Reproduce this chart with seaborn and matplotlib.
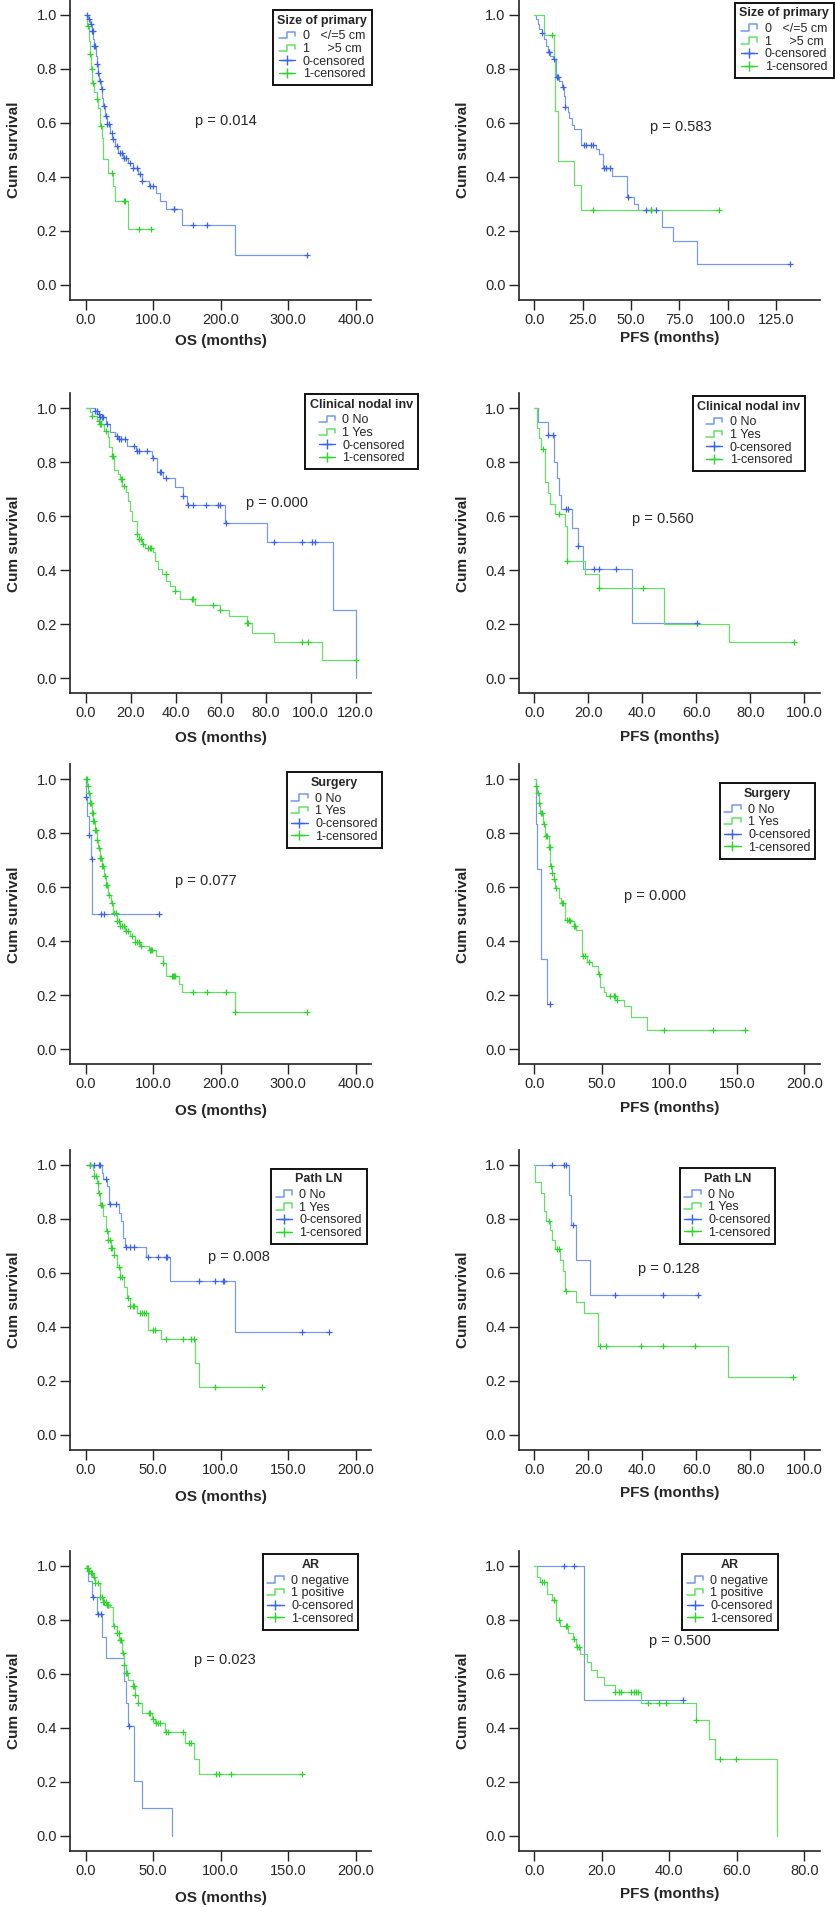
import numpy as np
import matplotlib
matplotlib.use("Agg")
import matplotlib.pyplot as plt
import seaborn as sns
from matplotlib.lines import Line2D
from matplotlib.legend_handler import HandlerBase

# ---- data: step times / survival after step / censor times ----
# Size of primary, OS
size_os_t0 = [4.0, 6.4, 8.9, 11.4, 12.9, 14.9, 16.3, 18.8, 20.3, 22.3, 24.3, 26.2, 29.2, 32.2, 36.1, 39.6,
              43.6, 48.5, 55.9, 63.4, 70.8, 78.2, 83.2, 93.1, 104.0, 110.4, 118.8, 142.6, 220.8]
size_os_s0 = [0.984, 0.966, 0.94, 0.91, 0.885, 0.848, 0.817, 0.786, 0.756, 0.725, 0.694, 0.663, 0.626, 0.595,
              0.564, 0.54, 0.515, 0.49, 0.47, 0.452, 0.434, 0.41, 0.385, 0.367, 0.342, 0.311, 0.28, 0.222, 0.11]
size_os_c0 = [2.5, 5.4, 7.4, 8.9, 10.4, 12.9, 14.4, 16.3, 18.8, 21.3, 23.8, 27.2, 30.2, 32.2, 34.7, 38.6, 41.1,
              46.0, 51.0, 53.5, 57.0, 60.0, 65.8, 70.8, 75.7, 80.7, 83.2, 95.5, 99.5, 130.2, 131.2, 158.4,
              179.7, 328.2]
size_os_t1 = [2.5, 4.5, 6.4, 7.9, 9.9, 12.4, 16.3, 18.3, 21.3, 23.8, 26.2, 33.7, 41.1, 43.6, 63.4]
size_os_s1 = [0.96, 0.904, 0.854, 0.80, 0.75, 0.716, 0.688, 0.657, 0.589, 0.546, 0.465, 0.416, 0.367, 0.311, 0.209]
size_os_c1 = [4.0, 6.4, 8.9, 11.4, 16.3, 22.3, 39.1, 56.0, 58.4, 79.2, 97.0]

# Size of primary, PFS
size_pfs_t0 = [0.9, 1.7, 2.6, 3.8, 4.8, 6.0, 6.9, 8.3, 9.5, 11.2, 12.9, 14.1, 15.2, 15.9, 17.2, 18.1, 19.3,
               20.7, 24.1, 31.9, 33.6, 35.7, 40.0, 47.9, 51.7, 53.8, 66.0, 71.9, 84.1]
size_pfs_s0 = [0.984, 0.965, 0.947, 0.935, 0.91, 0.885, 0.863, 0.848, 0.838, 0.772, 0.756, 0.735, 0.70, 0.66,
               0.64, 0.617, 0.591, 0.577, 0.519, 0.502, 0.484, 0.432, 0.404, 0.326, 0.30, 0.277, 0.216, 0.163,
               0.079]
size_pfs_c0 = [3.8, 7.4, 7.8, 10.3, 11.7, 12.1, 14.7, 16.0, 25.5, 26.7, 29.3, 30.2, 36.2, 37.1, 39.3, 48.5,
               57.6, 60.5, 62.8, 132.4]
size_pfs_t1 = [5.2, 10.0, 10.9, 12.1, 20.7, 24.1]
size_pfs_s1 = [0.925, 0.836, 0.645, 0.46, 0.37, 0.277]
size_pfs_c1 = [9.0, 30.3, 60.3, 95.7]

# Clinical nodal involvement, OS
nodal_os_t0 = [4.1, 5.2, 6.4, 9.0, 10.8, 13.0, 14.5, 18.2, 22.4, 29.3, 31.9, 34.5, 39.7, 43.4, 44.9, 61.9,
               80.4, 109.8, 120.0]
nodal_os_s0 = [0.991, 0.979, 0.969, 0.942, 0.913, 0.899, 0.886, 0.862, 0.843, 0.815, 0.765, 0.74, 0.707,
               0.674, 0.643, 0.577, 0.506, 0.252, 0.0]
nodal_os_c0 = [4.1, 4.9, 5.8, 6.4, 7.1, 7.9, 9.6, 13.7, 14.8, 15.7, 17.5, 21.6, 23.0, 23.9, 27.1, 30.1, 32.8,
               33.5, 35.6, 43.4, 45.3, 47.8, 53.5, 59.0, 59.7, 62.2, 83.9, 96.0, 100.7, 101.9]
nodal_os_t1 = [1.9, 2.7, 4.9, 6.4, 8.1, 10.1, 10.5, 11.6, 12.7, 14.5, 15.3, 16.3, 17.9, 19.0, 19.7, 20.4,
               23.0, 23.9, 24.9, 26.4, 29.8, 30.8, 32.0, 33.9, 35.7, 37.5, 39.7, 41.9, 48.6, 59.7, 63.9, 71.6,
               74.1, 83.7, 104.9]
nodal_os_s1 = [0.985, 0.97, 0.954, 0.942, 0.917, 0.892, 0.855, 0.824, 0.773, 0.756, 0.738, 0.713, 0.689,
               0.658, 0.62, 0.583, 0.534, 0.515, 0.497, 0.481, 0.466, 0.435, 0.404, 0.388, 0.361, 0.342, 0.324,
               0.293, 0.272, 0.253, 0.229, 0.206, 0.169, 0.136, 0.067]
nodal_os_c1 = [2.7, 5.9, 6.4, 6.8, 8.9, 11.6, 12.1, 15.6, 16.1, 17.0, 23.0, 23.9, 24.6, 25.6, 27.9, 28.6,
               28.9, 35.6, 39.7, 47.1, 47.9, 56.7, 59.9, 71.6, 72.3, 96.0, 98.9, 120.0]

# Clinical nodal involvement, PFS
nodal_pfs_t0 = [1.2, 5.1, 7.2, 8.4, 9.0, 10.0, 14.0, 16.1, 17.9, 36.1]
nodal_pfs_s0 = [0.95, 0.90, 0.80, 0.74, 0.68, 0.626, 0.558, 0.49, 0.406, 0.203]
nodal_pfs_c0 = [5.1, 6.8, 11.7, 12.3, 16.1, 21.9, 23.8, 30.2, 60.2]
nodal_pfs_t1 = [1.0, 1.8, 2.5, 3.8, 4.9, 5.7, 7.8, 11.2, 12.1, 18.6, 23.8, 48.1, 72.1]
nodal_pfs_s1 = [0.926, 0.889, 0.849, 0.728, 0.688, 0.647, 0.608, 0.564, 0.434, 0.387, 0.335, 0.202, 0.135]
nodal_pfs_c1 = [3.0, 9.0, 12.1, 23.8, 40.2, 96.3]

# Surgery, OS
surg_os_t0 = [0.5, 2.5, 5.0, 7.4, 9.9]
surg_os_s0 = [0.934, 0.864, 0.792, 0.705, 0.50]
surg_os_c0 = [0.6, 5.4, 8.9, 22.3, 27.2, 107.9]
surg_os_t1 = [2.5, 4.0, 6.4, 8.9, 11.4, 13.9, 16.3, 18.8, 21.3, 23.8, 27.2, 30.2, 33.7, 37.1, 41.1, 46.0,
              51.0, 58.4, 65.8, 73.3, 80.7, 93.1, 104.5, 114.4, 118.8, 138.6, 142.6, 221.8]
surg_os_s1 = [0.975, 0.95, 0.913, 0.876, 0.845, 0.814, 0.777, 0.746, 0.709, 0.678, 0.641, 0.61, 0.573, 0.542,
              0.505, 0.474, 0.455, 0.437, 0.418, 0.399, 0.381, 0.366, 0.344, 0.319, 0.27, 0.243, 0.212, 0.14]
surg_os_c1 = [0.5, 1.5, 3.0, 4.5, 6.4, 7.9, 9.4, 10.4, 11.4, 12.9, 14.4, 15.8, 17.3, 19.3, 21.3, 22.8, 24.3,
              26.2, 28.2, 30.2, 32.2, 35.1, 38.6, 42.6, 45.0, 47.0, 49.0, 51.0, 53.5, 56.9, 59.9, 63.4, 68.3,
              73.3, 76.7, 79.7, 82.2, 94.6, 96.5, 98.0, 114.4, 127.7, 129.2, 130.2, 132.7, 158.4, 179.7,
              207.9, 221.8, 327.2]

# Surgery, PFS
surg_pfs_t0 = [1.5, 2.0, 5.2, 9.4]
surg_pfs_s0 = [0.835, 0.668, 0.334, 0.167]
surg_pfs_c0 = [11.8]
surg_pfs_t1 = [1.0, 2.0, 3.2, 4.4, 6.4, 8.1, 10.6, 11.8, 13.1, 14.3, 15.5, 18.0, 19.7, 22.4, 26.1, 29.1,
               31.1, 35.5, 39.0, 42.7, 47.1, 48.3, 51.3, 53.3, 61.2, 66.1, 71.5, 83.3]
surg_pfs_s1 = [0.975, 0.95, 0.913, 0.876, 0.833, 0.79, 0.75, 0.678, 0.653, 0.629, 0.598, 0.561, 0.542, 0.48,
               0.474, 0.455, 0.443, 0.344, 0.325, 0.307, 0.28, 0.23, 0.212, 0.198, 0.181, 0.161, 0.121, 0.072]
surg_pfs_c1 = [1.5, 2.7, 3.7, 4.9, 5.9, 6.9, 8.6, 9.4, 10.6, 11.3, 12.3, 13.1, 14.8, 16.3, 20.5, 21.2, 24.2,
               25.4, 26.6, 29.1, 30.3, 36.0, 37.2, 40.2, 47.6, 55.7, 58.7, 59.9, 61.2, 95.7, 132.2, 156.1]

# Path LN, OS
pln_os_t0 = [11.9, 13.1, 15.6, 17.6, 24.3, 26.0, 27.5, 29.2, 44.8, 62.1, 110.4]
pln_os_s0 = [0.97, 0.948, 0.921, 0.857, 0.824, 0.791, 0.729, 0.696, 0.658, 0.572, 0.38]
pln_os_c0 = [3.2, 6.2, 9.9, 10.6, 15.1, 18.1, 22.3, 29.5, 32.9, 36.1, 46.5, 53.5, 59.4, 60.1, 84.2, 96.0,
             101.5, 102.2, 159.9, 180.2]
pln_os_t1 = [5.2, 6.4, 8.2, 9.4, 10.6, 12.6, 15.1, 16.8, 18.6, 21.0, 23.0, 25.5, 28.0, 30.4, 32.9, 37.9,
             46.5, 55.9, 80.7, 84.2]
pln_os_s1 = [0.983, 0.958, 0.933, 0.896, 0.853, 0.81, 0.754, 0.723, 0.692, 0.668, 0.624, 0.587, 0.55, 0.507,
             0.476, 0.451, 0.389, 0.355, 0.266, 0.177]
pln_os_c1 = [3.2, 6.4, 7.4, 8.9, 9.9, 11.1, 11.9, 15.6, 16.8, 18.1, 18.6, 19.6, 21.0, 24.3, 25.5, 26.7, 31.7,
             32.9, 34.9, 36.1, 39.9, 41.6, 43.3, 44.6, 50.2, 51.5, 59.4, 71.8, 78.0, 79.9, 96.0, 130.7]

# Path LN, PFS
pln_pfs_t0 = [12.7, 13.7, 15.5, 20.5]
pln_pfs_s0 = [0.888, 0.779, 0.649, 0.518]
pln_pfs_c0 = [6.5, 10.9, 11.7, 14.2, 29.7, 47.6, 60.5]
pln_pfs_t1 = [0.4, 2.5, 3.5, 4.4, 5.7, 6.5, 7.5, 9.6, 10.5, 11.2, 15.5, 18.2, 23.6, 71.6]
pln_pfs_s1 = [0.936, 0.896, 0.831, 0.794, 0.76, 0.723, 0.69, 0.649, 0.609, 0.534, 0.492, 0.451, 0.328, 0.216]
pln_pfs_c1 = [5.5, 8.4, 9.2, 11.7, 24.4, 26.5, 39.6, 47.6, 59.6, 95.7]

# AR, OS
ar_os_t0 = [2.0, 5.0, 8.2, 11.9, 15.1, 28.0, 30.0, 31.7, 36.1, 41.6, 63.9]
ar_os_s0 = [0.943, 0.883, 0.82, 0.737, 0.656, 0.572, 0.492, 0.405, 0.203, 0.103, 0.0]
ar_os_c0 = [5.4, 9.0, 11.5, 32.0]
ar_os_t1 = [1.2, 2.5, 3.7, 5.7, 6.9, 10.6, 13.1, 15.1, 18.1, 20.5, 23.5, 25.0, 26.7, 28.0, 29.7, 31.7, 34.9,
            36.6, 38.4, 41.6, 49.0, 51.5, 58.9, 73.8, 80.4, 83.7]
ar_os_s1 = [0.99, 0.981, 0.972, 0.959, 0.934, 0.885, 0.866, 0.854, 0.845, 0.776, 0.749, 0.724, 0.675, 0.632,
            0.601, 0.576, 0.554, 0.52, 0.49, 0.453, 0.432, 0.416, 0.384, 0.341, 0.283, 0.226]
ar_os_c1 = [1.2, 2.0, 2.7, 4.0, 5.0, 6.2, 6.9, 8.9, 10.6, 11.9, 13.1, 13.9, 14.9, 15.6, 16.3, 16.8, 21.0, 23.5,
            24.5, 25.5, 26.0, 27.5, 28.5, 30.0, 30.4, 35.4, 36.1, 36.6, 38.6, 47.0, 47.8, 49.8, 52.2, 53.2,
            54.7, 59.7, 60.6, 71.8, 76.7, 78.0, 96.8, 99.0, 107.7, 159.9]

# AR, PFS
ar_pfs_t0 = [14.8]
ar_pfs_s0 = [0.502]
ar_pfs_c0 = [8.7, 11.6, 43.9]
ar_pfs_t1 = [0.8, 1.8, 3.7, 5.2, 6.5, 7.5, 9.9, 11.4, 12.4, 13.6, 15.6, 16.9, 18.5, 20.5, 23.8, 31.7, 47.8,
             51.8, 53.6, 71.8]
ar_pfs_s1 = [0.959, 0.94, 0.895, 0.873, 0.798, 0.776, 0.749, 0.726, 0.699, 0.671, 0.644, 0.613, 0.588, 0.559,
             0.532, 0.489, 0.427, 0.357, 0.285, 0.0]
ar_pfs_c1 = [2.3, 2.8, 5.7, 5.9, 7.4, 9.5, 9.7, 11.6, 12.6, 13.1, 23.8, 25.0, 25.6, 28.7, 29.4, 30.1, 30.7,
             33.6, 36.8, 39.1, 47.8, 55.0, 59.8]

legend_titles = ["Size of primary", "Size of primary", "Clinical nodal inv", "Clinical nodal inv",
                 "Surgery", "Surgery", "Path LN", "Path LN", "AR", "AR"]
group_labels = [["0   </=5 cm", "1     >5 cm"]] * 2 + [["0 No", "1 Yes"]] * 6 + [["0 negative", "1 positive"]] * 2
p_values = ["0.014", "0.583", "0.000", "0.560", "0.077", "0.000", "0.008", "0.128", "0.023", "0.500"]
x_titles = ["OS (months)", "PFS (months)"] * 5
x_ticks = [[0, 100, 200, 300, 400], [0, 25, 50, 75, 100, 125], [0, 20, 40, 60, 80, 100, 120],
           [0, 20, 40, 60, 80, 100], [0, 100, 200, 300, 400], [0, 50, 100, 150, 200],
           [0, 50, 100, 150, 200], [0, 20, 40, 60, 80, 100], [0, 50, 100, 150, 200], [0, 20, 40, 60, 80]]

curves = [
    (size_os_t0, size_os_s0, size_os_c0, size_os_t1, size_os_s1, size_os_c1),
    (size_pfs_t0, size_pfs_s0, size_pfs_c0, size_pfs_t1, size_pfs_s1, size_pfs_c1),
    (nodal_os_t0, nodal_os_s0, nodal_os_c0, nodal_os_t1, nodal_os_s1, nodal_os_c1),
    (nodal_pfs_t0, nodal_pfs_s0, nodal_pfs_c0, nodal_pfs_t1, nodal_pfs_s1, nodal_pfs_c1),
    (surg_os_t0, surg_os_s0, surg_os_c0, surg_os_t1, surg_os_s1, surg_os_c1),
    (surg_pfs_t0, surg_pfs_s0, surg_pfs_c0, surg_pfs_t1, surg_pfs_s1, surg_pfs_c1),
    (pln_os_t0, pln_os_s0, pln_os_c0, pln_os_t1, pln_os_s1, pln_os_c1),
    (pln_pfs_t0, pln_pfs_s0, pln_pfs_c0, pln_pfs_t1, pln_pfs_s1, pln_pfs_c1),
    (ar_os_t0, ar_os_s0, ar_os_c0, ar_os_t1, ar_os_s1, ar_os_c1),
    (ar_pfs_t0, ar_pfs_s0, ar_pfs_c0, ar_pfs_t1, ar_pfs_s1, ar_pfs_c1),
]

# ---- layout (pixels in the 835x1907 figure) ----
W, H = 835, 1907
AX_W, AX_H = 301, 300
col_left = [70, 518.7]
row_bottom = [300, 693.3, 1064.3, 1450, 1850.5]
x_span = [400, 139.7, 120, 100, 400, 200, 200, 100, 200, 80]   # data units per 270 px
legend_corner = [(372, 10), (834, 2.7), (418, 394), (805.3, 396), (382.3, 772.3),
                 (815.3, 783.3), (366.7, 1168.7), (775.3, 1168.3), (358.3, 1554.3), (777.7, 1554.3)]
p_pos = [(162, 0.607), (59.8, 0.587), (71.1, 0.648), (36.1, 0.591), (132.7, 0.625),
         (66.1, 0.569), (90.3, 0.659), (38.2, 0.616), (80.4, 0.65), (34.1, 0.72)]
xlab_drop = [40.7, 38, 44.7, 44, 47.3, 44, 46.7, 43.3, 47.3, 43.3]

BLUE, BLUE_M = "#7397f4", "#3a62f0"
GREEN, GREEN_M = "#62e262", "#2ed42e"

sns.set_style("ticks")
plt.rcParams["font.family"] = ["Liberation Sans", "DejaVu Sans"]


class StepKey(Line2D):
    pass


class StepHandler(HandlerBase):
    def create_artists(self, legend, orig_handle, xdescent, ydescent, width, height, fontsize, trans):
        xs = np.array([0, 0.5, 0.5, 1.0, 1.0]) * width - xdescent
        ys = np.array([0.1, 0.1, 0.85, 0.85, 0.35]) * height - ydescent
        return [Line2D(xs, ys, color=orig_handle.get_color(), lw=1.1, transform=trans)]


def surv_at(times, surv, t):
    i = np.searchsorted(np.asarray(times), np.asarray(t), side="right")
    vals = np.asarray([1.0] + list(surv))
    return vals[i]


def draw_group(ax, times, surv, cens, color, mcolor):
    end = max(times[-1], max(cens))
    xs = [0.0] + list(times)
    ys = [1.0] + list(surv)
    if end > times[-1]:
        xs.append(end)
        ys.append(surv[-1])
    sns.lineplot(x=xs, y=ys, ax=ax, color=color, lw=0.85, drawstyle="steps-post",
                 estimator=None, sort=False)
    sns.scatterplot(x=cens, y=surv_at(times, surv, cens), ax=ax, marker="+",
                    color=mcolor, s=18, linewidth=0.9, zorder=3)


fig = plt.figure(figsize=(W / 100, H / 100), dpi=100)

for k in range(10):
    r, c = divmod(k, 2)
    left = col_left[c]
    bottom = row_bottom[r]
    ax = fig.add_axes([left / W, 1 - bottom / H, AX_W / W, AX_H / H])
    t0, s0, c0, t1, s1, c1 = curves[k]
    draw_group(ax, t0, s0, c0, BLUE, BLUE_M)
    draw_group(ax, t1, s1, c1, GREEN, GREEN_M)

    span = x_span[k]
    ax.set_xlim(-15.7 / 270 * span, (AX_W - 15.7) / 270 * span)
    ax.set_ylim(-15 / 270, 1 + 15 / 270)
    ax.set_xticks(x_ticks[k])
    ax.set_xticklabels([f"{v:.1f}" for v in x_ticks[k]])
    ax.set_yticks([0, 0.2, 0.4, 0.6, 0.8, 1.0])
    ax.set_yticklabels([f"{v:.1f}" for v in [0, 0.2, 0.4, 0.6, 0.8, 1.0]])
    ax.tick_params(direction="out", length=7.5, width=1.0, labelsize=10.5, pad=2, color="#222222")
    sns.despine(ax=ax)
    for sp in ["left", "bottom"]:
        ax.spines[sp].set_linewidth(1.2)
        ax.spines[sp].set_color("#222222")

    ax.set_ylabel("Cum survival", fontsize=11, fontweight="bold")
    ax.yaxis.set_label_coords(-49 / AX_W, 0.5)
    ax.set_xlabel(x_titles[k], fontsize=11, fontweight="bold")
    ax.xaxis.set_label_coords(0.5, -(xlab_drop[k] - 7.2) / AX_H)

    ax.text(p_pos[k][0], p_pos[k][1], "p = " + p_values[k], fontsize=10.5, ha="left", va="center")

    handles = [StepKey([], [], color=BLUE), StepKey([], [], color=GREEN),
               Line2D([], [], color=BLUE_M, marker="+", ms=7, mew=1.0, lw=1.0),
               Line2D([], [], color=GREEN_M, marker="+", ms=7, mew=1.0, lw=1.0)]
    labels = group_labels[k] + ["0-censored", "1-censored"]
    rx, ty = legend_corner[k]
    leg = ax.legend(handles, labels, title=legend_titles[k], loc="upper right",
                    bbox_to_anchor=(rx / W, 1 - ty / H), bbox_transform=fig.transFigure,
                    fontsize=9, title_fontproperties={"weight": "bold", "size": 9},
                    frameon=True, fancybox=False, framealpha=1, edgecolor="#111111",
                    handlelength=1.3, handletextpad=0.6, labelspacing=0.06, borderpad=0.38,
                    borderaxespad=0, handler_map={StepKey: StepHandler()})
    leg.get_frame().set_linewidth(1.4)
    # a little room under the bold legend title, as in the reference
    if hasattr(leg, "_legend_box"):
        leg._legend_box.sep = 2.5

fig.savefig("out.png", dpi=100)
